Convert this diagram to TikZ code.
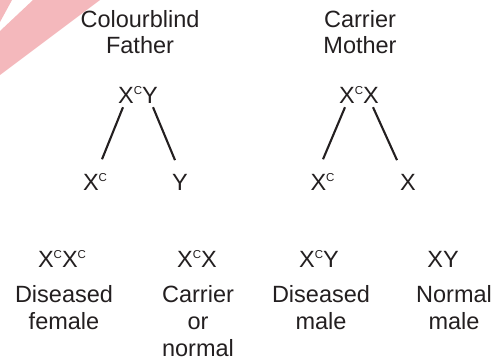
\documentclass[tikz,border=0pt]{standalone}
\usepackage{fontspec}
\setmainfont{Liberation Sans}
\definecolor{ink}{HTML}{231F20}
\definecolor{wm}{RGB}{244,184,188}
\newcommand\csup{\raisebox{9bp}{\fontsize{11.5bp}{11.5bp}\selectfont C}}
\begin{document}
\begin{tikzpicture}[x=1bp,y=-1bp,
  txt/.style={inner sep=0pt, anchor=base, text=ink, align=center,
    font=\fontsize{23.5bp}{27bp}\selectfont},
  ttl/.style={txt, font=\fontsize{23.5bp}{25.5bp}\selectfont},
  link/.style={draw=ink, line width=2.1bp}]
\useasboundingbox (0,0) rectangle (498,360);
% watermark streak
\fill[wm] (0,0) -- (12,0) -- (0,22) -- cycle;
\fill[wm] (33,0) -- (100,0) -- (0,75) -- (0,31) -- cycle;
% titles (anchor = baseline of last line)
\node[ttl] (tf) at (140,53) {Colourblind\\Father};
\node[ttl] (tm) at (360,53) {Carrier\\Mother};
% parents
\node[txt] (fa) at (138,103) {X\csup Y};
\node[txt] (mo) at (359,103) {X\csup X};
% gametes
\node[txt] (fxc) at (95,190) {X\csup};
\node[txt] (fy) at (180,190) {Y};
\node[txt] (mxc) at (322.5,190) {X\csup};
\node[txt] (mx) at (408,190) {X};
% connectors
\draw[link] ([xshift=-15bp,yshift=-4bp]fa.south) -- ([xshift=7bp,yshift=13.5bp]fxc.north);
\draw[link] ([xshift=15bp,yshift=-4bp]fa.south) -- ([xshift=-5bp,yshift=13.5bp]fy.north);
\draw[link] ([xshift=-14bp,yshift=-4bp]mo.south) -- ([xshift=0.5bp,yshift=13.5bp]mxc.north);
\draw[link] ([xshift=14bp,yshift=-4bp]mo.south) -- ([xshift=-11bp,yshift=13.5bp]mx.north);
% offspring genotypes
\node[txt] (g1) at (62,267) {X\csup X\csup};
\node[txt] (g2) at (197,267) {X\csup X};
\node[txt] (g3) at (319,267) {X\csup Y};
\node[txt] (g4) at (443,267) {XY};
% phenotypes (anchor = baseline of last line)
\node[txt] (p1) at (64,329) {Diseased\\female};
\node[txt] (p2) at (198,356) {Carrier\\or\\normal};
\node[txt] (p3) at (321,329) {Diseased\\male};
\node[txt] (p4) at (454,329) {Normal\\male};
\end{tikzpicture}
\end{document}
